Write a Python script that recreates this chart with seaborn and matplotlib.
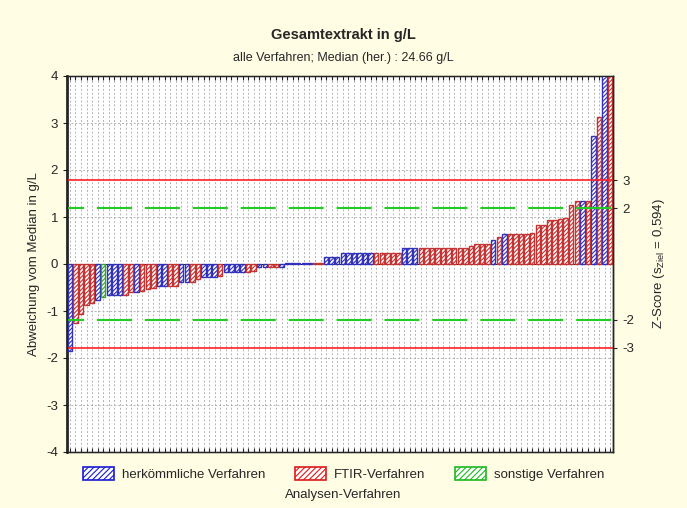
import numpy as np
import pandas as pd
import matplotlib
matplotlib.use("Agg")
import matplotlib.pyplot as plt
from matplotlib.patches import Patch
import seaborn as sns

# deviation from median (g/L), sorted, one bar per lab
values = [
    -1.86, -1.26, -1.06, -0.87, -0.82, -0.77, -0.70, -0.67, -0.67, -0.67,
    -0.65, -0.60, -0.59, -0.57, -0.54, -0.51, -0.46, -0.46, -0.46, -0.46,
    -0.38, -0.38, -0.38, -0.32, -0.27, -0.27, -0.27, -0.25, -0.18, -0.18,
    -0.18, -0.18, -0.18, -0.14, -0.07, -0.07, -0.07, -0.07, -0.06,
    0.03, 0.03, 0.03, 0.03, 0.03, 0.03, 0.03,
    0.14, 0.14, 0.14,
    0.23, 0.23, 0.23, 0.23, 0.23, 0.23, 0.23, 0.23, 0.23, 0.23, 0.23,
    0.33, 0.33, 0.33, 0.33, 0.33, 0.33, 0.33, 0.33, 0.33, 0.33, 0.33,
    0.35, 0.38, 0.42, 0.43, 0.43, 0.52, 0.57,
    0.63, 0.63, 0.63, 0.63, 0.63, 0.66, 0.82, 0.82,
    0.93, 0.94, 0.96, 0.97, 1.26, 1.33, 1.33, 1.33,
    2.73, 3.13, 4.60, 5.20,
]

# H = herkömmlich, F = FTIR, S = sonstige
methods = list(
    "HFFFFHSHHHFFHFFFHHFFHHFFHHHFHHHHFFHHFFH"
    "HHHHHFFHHH"
    "HHHHHHFFFFFHHH"
    "FFFFFFFFFFFFF"
    "HFH"
    "FFFFFFFFFFFFF"
    "HFHFHF"
)

method_names = {"H": "herkömmliche Verfahren", "F": "FTIR-Verfahren", "S": "sonstige Verfahren"}
method_colors = {"H": "#1a1ad2", "F": "#dc1a1a", "S": "#20b820"}

median = 24.66
s_ziel = 0.594
z_ticks = [3, 2, -2, -3]

bg = "#fffde4"

df = pd.DataFrame({"pos": np.arange(len(values)), "val": values, "method": methods})

sns.set_style("white")
plt.rcParams["font.family"] = ["Liberation Sans", "DejaVu Sans"]
plt.rcParams["axes.unicode_minus"] = False
plt.rcParams["mathtext.fontset"] = "custom"
plt.rcParams["mathtext.rm"] = "Liberation Sans"
plt.rcParams["mathtext.it"] = "Liberation Sans"
plt.rcParams["hatch.linewidth"] = 0.8

fig = plt.figure(figsize=(6.87, 5.08), dpi=100, facecolor=bg)
ax = fig.add_axes([67 / 687, 1 - 452 / 508, 546 / 687, 376 / 508])
ax.set_facecolor("white")

sns.barplot(data=df, x="pos", y="val", hue="method", dodge=False, width=0.8,
            palette=method_colors, hue_order=["H", "F", "S"], legend=False,
            ax=ax, zorder=3)

# hatched bars: white fill, coloured outline and hatch
for p in ax.patches:
    c = p.get_facecolor()
    p.set_edgecolor(c)
    p.set_facecolor("white")
    p.set_hatch("////////")
    p.set_linewidth(1.0)

ax.set_ylim(-4, 4)
ax.set_xlim(-0.5, len(values) - 0.5)
ax.set_yticks(range(-4, 5))
ax.set_xticks(range(len(values)))
ax.set_xticklabels([])
ax.set_xlabel("")
ax.set_ylabel("Abweichung vom Median in g/L", fontsize=9.5)
ax.tick_params(axis="x", direction="in", length=3, top=True, bottom=True, width=0.8)
ax.tick_params(axis="y", direction="out", length=3, labelsize=9.5)

ax.grid(True, axis="both", color="#b4b4b4", linestyle=(0, (2, 2)), linewidth=0.7, zorder=0)
ax.set_axisbelow(True)

# limits: red = |z| 3, green dashed = |z| 2
for z in (3, -3):
    ax.axhline(z * s_ziel, color="#ff2020", linewidth=1.2, zorder=4)
for z in (2, -2):
    ax.axhline(z * s_ziel, color="#22cc22", linewidth=1.5,
               linestyle=(8.6, (16.8, 6.2)), zorder=4)
ax.axhline(0, color="black", linewidth=0.6, zorder=2)

for s in ax.spines.values():
    s.set_color("black")
    s.set_linewidth(1.0)
ax.spines["left"].set_linewidth(1.8)

ax2 = ax.twinx()
ax2.set_ylim(-4, 4)
ax2.set_yticks([z * s_ziel for z in z_ticks])
ax2.set_yticklabels([str(z) for z in z_ticks], fontsize=9.5)
ax2.tick_params(axis="y", direction="out", length=3)
ax2.set_ylabel(r"Z-Score (s$_{\mathrm{Ziel}}$ = 0,594)", fontsize=9.5, labelpad=12)
ax2.spines["right"].set_linewidth(1.0)

fig.text(0.5, 1 - 35 / 508, "Gesamtextrakt in g/L", ha="center", va="center",
         fontsize=10.5, fontweight="bold")
fig.text(0.5, 1 - 58 / 508, f"alle Verfahren; Median (her.) : {median} g/L",
         ha="center", va="center", fontsize=9)

handles = [Patch(facecolor="white", edgecolor=method_colors[k], hatch="//////",
                 linewidth=1.2, label=method_names[k]) for k in ["H", "F", "S"]]
fig.legend(handles=handles, loc="center", bbox_to_anchor=(0.5, 1 - 474 / 508),
           ncol=3, frameon=False, fontsize=9.5, handlelength=2.4, handleheight=1.1,
           columnspacing=2.2, handletextpad=0.6)
fig.text(0.5, 1 - 495 / 508, "Analysen-Verfahren", ha="center", va="center", fontsize=9.5)

fig.savefig("out.png", dpi=100, facecolor=bg)
